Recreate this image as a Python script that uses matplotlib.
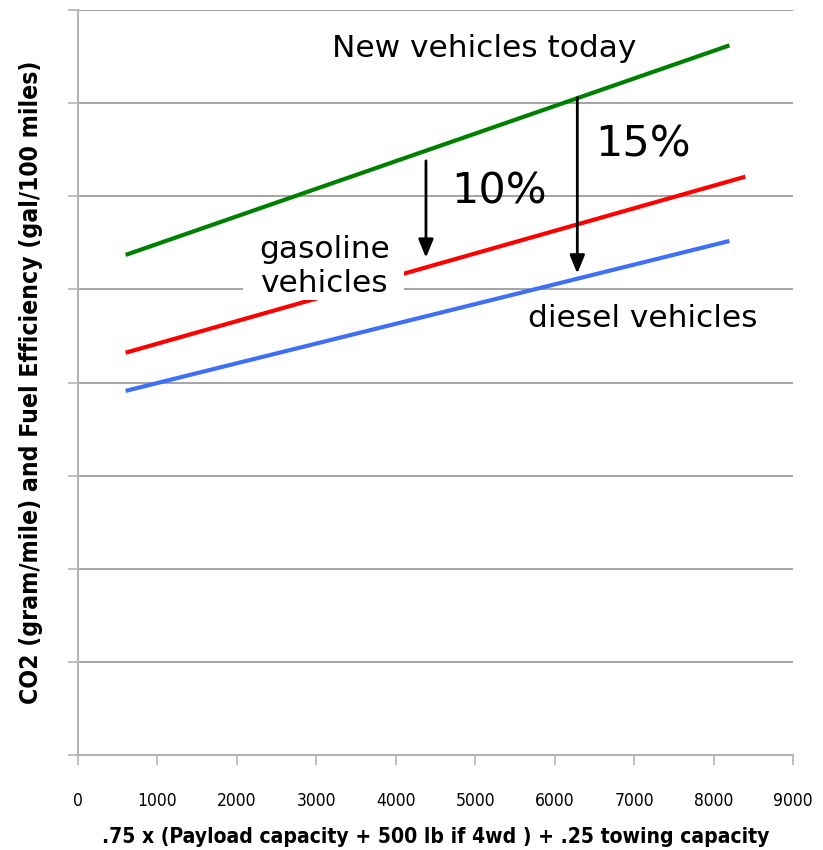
import matplotlib
matplotlib.use('Agg')
import matplotlib.pyplot as plt
from matplotlib.patches import Rectangle

#Data (y in grid units, no tick labels on y)
line_x = {'green': [600, 8200], 'red': [600, 8400], 'blue': [600, 8200]}
line_y = {'green': [5.37, 7.62], 'red': [4.32, 6.21], 'blue': [3.91, 5.52]}
line_colors = {'green': '#008000', 'red': '#ff0000', 'blue': '#3f6ff5'}

arrow_x = [4380, 6285]
arrow_y_start = [6.38, 7.06]
arrow_y_end = [5.34, 5.17]
arrow_labels = ['10%', '15%']

xticks = [0, 1000, 2000, 3000, 4000, 5000, 6000, 7000, 8000, 9000]
ylevels = [0, 1, 2, 3, 4, 5, 6, 7, 8]

#Setup figure
fig = plt.figure(figsize=(8.23, 8.5), dpi=100)
ax = fig.add_axes([78/823, 1-755/850, 715/823, 745/850])

ax.set_xlim(0, 9000)
ax.set_ylim(0, 8)
ax.set_xticks(xticks)
ax.set_yticks(ylevels)
ax.set_yticklabels([])
ax.grid(axis='y', color='#8c8c8c', lw=1.1)
ax.set_axisbelow(True)
for side in ['top', 'right']:
    ax.spines[side].set_visible(False)
for side in ['left', 'bottom']:
    ax.spines[side].set_color('#b4b4b4')
    ax.spines[side].set_linewidth(1.5)
ax.tick_params(axis='both', direction='out', length=7, color='#b4b4b4', width=1.2)
ax.tick_params(axis='x', pad=20)
for lbl in ax.get_xticklabels():
    lbl.set_fontstretch('condensed')
    lbl.set_fontsize(12.5)

#Lines
for key in line_x:
    ax.plot(line_x[key], line_y[key], color=line_colors[key], lw=3, solid_capstyle='butt', zorder=3)

#Arrows and percentages
for xa, y0, y1 in zip(arrow_x, arrow_y_start, arrow_y_end):
    ax.annotate('', xy=(xa, y1), xytext=(xa, y0),
                arrowprops=dict(arrowstyle='-|>,head_length=1.1,head_width=0.45', color='black', lw=2, shrinkA=0, shrinkB=0), zorder=4)
ax.text(5300, 6.05, arrow_labels[0], fontsize=31, ha='center', va='center')
ax.text(7110, 6.56, arrow_labels[1], fontsize=31, ha='center', va='center')

#Annotations
ax.text(5110, 7.59, 'New vehicles today', fontsize=22.5, ha='center', va='center')
ax.add_patch(Rectangle((2077, 4.89), 2027, 0.8, fc='white', ec='none', zorder=4)) #White box behind label
ax.text(3100, 5.25, 'gasoline\nvehicles', fontsize=22.5, ha='center', va='center', linespacing=1.22, zorder=5)
ax.text(7110, 4.69, 'diesel vehicles', fontsize=22.5, ha='center', va='center')

#Axis labels
ax.set_xlabel('.75 x (Payload capacity + 500 lb if 4wd ) + .25 towing capacity', fontstretch='condensed',
              fontsize=15.1, fontweight='bold', labelpad=12)
ax.set_ylabel('CO2 (gram/mile) and Fuel Efficiency (gal/100 miles)', fontstretch='condensed',
              fontsize=17.7, fontweight='bold', labelpad=15)

plt.savefig('out.png', dpi=100)
